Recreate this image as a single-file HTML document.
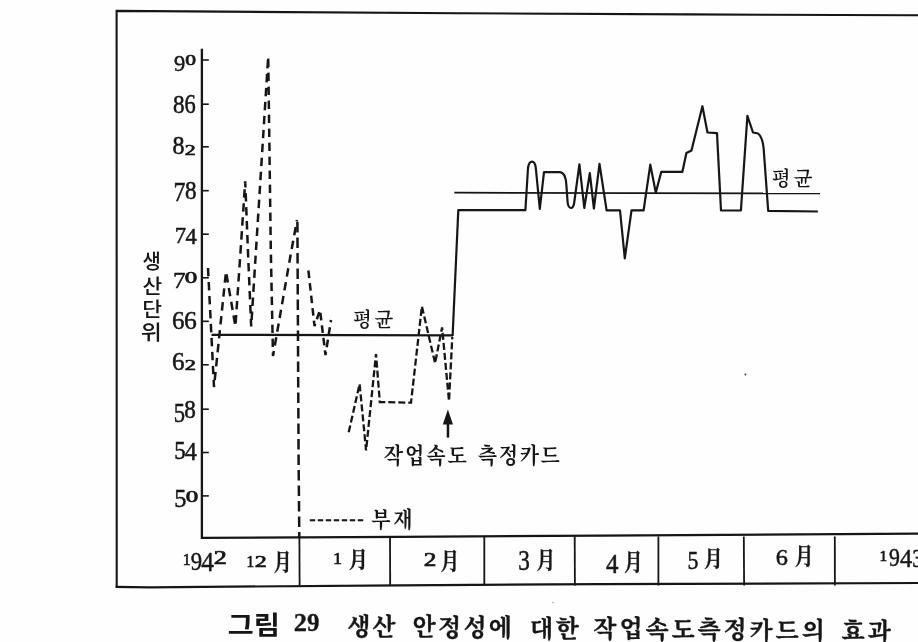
<!DOCTYPE html>
<html lang="ko"><head><meta charset="utf-8"><title>그림 29 생산 안정성에 대한 작업속도측정카드의 효과</title>
<style>
html,body{margin:0;padding:0;background:#fefefe;}
body{width:918px;height:642px;overflow:hidden;position:relative;}
svg{display:block;position:absolute;left:0;top:0;}
.l{fill:none;stroke:#161616;stroke-linecap:butt;stroke-linejoin:miter;}
.s{font-family:'Liberation Serif','Noto Serif CJK SC',serif;fill:#161616;}
.g{font-family:'Liberation Sans','Noto Sans CJK KR',sans-serif;fill:#161616;}
</style></head><body>
<svg width="918" height="642" viewBox="0 0 918 642">
<defs><filter id="soft" x="0" y="0" width="100%" height="100%" filterUnits="userSpaceOnUse"><feGaussianBlur stdDeviation="0.55"/></filter></defs>
<rect width="918" height="642" fill="#fefefe"/>
<g id="chart" filter="url(#soft)">
<g class="l" id="frame">
<polyline stroke-width="2.1" points="116.7,587.8 116.6,10.9 460,13.3 688,14.4 919,15.3"/>
<polyline stroke-width="2.2" points="115.6,586.9 150,587.3 400,585.3 600,584.1 919,583"/>
<polyline stroke-width="2.3" points="201.9,48.8 201.9,537.9 400,536.8 600,535.6 919,533.6"/>
<line stroke-width="1.6" x1="202" y1="60" x2="208.8" y2="60"/>
<line stroke-width="1.6" x1="202" y1="104.2" x2="208.8" y2="104.2"/>
<line stroke-width="1.6" x1="202" y1="146.8" x2="208.8" y2="146.8"/>
<line stroke-width="1.6" x1="202" y1="190.7" x2="208.8" y2="190.7"/>
<line stroke-width="1.6" x1="202" y1="234.2" x2="208.8" y2="234.2"/>
<line stroke-width="1.6" x1="202" y1="277.8" x2="208.8" y2="277.8"/>
<line stroke-width="1.6" x1="202" y1="321.3" x2="208.8" y2="321.3"/>
<line stroke-width="1.6" x1="202" y1="364.8" x2="208.8" y2="364.8"/>
<line stroke-width="1.6" x1="202" y1="409.2" x2="208.8" y2="409.2"/>
<line stroke-width="1.6" x1="202" y1="452.5" x2="208.8" y2="452.5"/>
<line stroke-width="1.6" x1="202" y1="495.9" x2="208.8" y2="495.9"/>
<line stroke-width="1.8" x1="299.4" y1="536.5" x2="299.6" y2="585.5"/>
<line stroke-width="1.8" x1="390" y1="536.5" x2="390.2" y2="585.5"/>
<line stroke-width="1.8" x1="484.3" y1="536.5" x2="484.3" y2="585.5"/>
<line stroke-width="1.8" x1="574.7" y1="536.5" x2="574.9" y2="585.5"/>
<line stroke-width="1.8" x1="658.4" y1="536.5" x2="658.4" y2="585.5"/>
<line stroke-width="1.8" x1="743.8" y1="536.5" x2="744.1" y2="585.5"/>
<line stroke-width="1.8" x1="834.8" y1="536.5" x2="834.9" y2="585.5"/>
</g>
<g class="l" id="avg">
<line stroke-width="2.2" x1="211.5" y1="334.8" x2="453" y2="335.4"/>
<line stroke-width="1.8" x1="454.3" y1="192.7" x2="820" y2="193.4"/>
</g>
<g class="l" id="dashed" stroke-width="2.5">
<polyline stroke-dasharray="8.4 5.6" points="208,268 214,387 226,271.5 235.4,326.4 240.3,255 245.2,181.4 248.1,255 251.2,326.4 256,250 268.2,56.5 270.8,250 273,356 290.6,255 297,220"/>
<polyline stroke-width="2.5" stroke-dasharray="10.5 5" points="297.4,222 298.6,460 299.3,537"/>
<polyline stroke-dasharray="7.6 5" points="308.4,270.5 314.5,326 320,310 325.5,355 331,320"/>
<polyline stroke-width="2.3" stroke-dasharray="7 3" points="348.7,432.3 359.6,384 366.1,450.5 376,354 379.8,402 411,402.7 421.9,306.4 435.1,363.2 442.1,327.4 449,401 452.3,337"/>
<line stroke-width="2" stroke-dasharray="5.4 2.6" x1="309.8" y1="520.2" x2="365" y2="520.2"/>
</g>
<g class="l" id="solid">
<path stroke-width="2.2" stroke-linejoin="round" d="M452.6,336 L458.3,210.2 L525.4,210.2 L528,168 Q529,161.6 532,161.6 Q535,161.6 535.8,168 L539.8,208.8 L544,172.2 L560.2,172.2 Q565.5,173 566.3,184 L567.6,202 Q568.2,208 571,208 Q573.6,208 574.3,202 L579.4,164.4 L584.3,208 L589.8,173.1 L593.9,208.5 L599.5,163.9 L606.6,210.4 L620,210.4 L624.8,258.4 L631.5,210.4 L643.6,210.4 L650.3,164.7 L655.8,192.6 L661.3,171.8 L682.4,171.8 L686.4,153 L691.5,150.4 L702.4,106.2 L707.5,132.5 L717,133.1 L721,210.5 L740.9,210.5 L747.4,115.9 L753,132.5 L758.1,133.5 Q762.5,137 763.6,148 L768.2,210.9 L817.9,211.5"/>
</g>
<g id="specks" fill="#161616"><circle cx="745.4" cy="374.6" r="1" opacity="0.8"/><circle cx="553" cy="602.6" r="0.8" opacity="0.35"/></g>
<g id="arrow" fill="#161616" stroke="none">
<polygon points="447.9,409.5 453,424.6 442.8,424.6"/>
<rect x="446.7" y="424" width="2.5" height="13.6"/>
</g>
<g id="ylabels">
<text class="s" font-weight="400" stroke="#161616" stroke-width="0.5" stroke-linejoin="round"><tspan x="174.08" y="71.07" font-size="23.96" textLength="11.25" lengthAdjust="spacingAndGlyphs">9</tspan><tspan stroke-width="0.7" x="185.33" y="65.4" font-size="14.97" textLength="10.74" lengthAdjust="spacingAndGlyphs">0</tspan></text>
<text class="s" font-weight="400" stroke="#161616" stroke-width="0.5" stroke-linejoin="round"><tspan x="173.02" y="112.84" font-size="26.23" textLength="11.56" lengthAdjust="spacingAndGlyphs">8</tspan><tspan x="184.43" y="112.84" font-size="26.34" textLength="11.23" lengthAdjust="spacingAndGlyphs">6</tspan></text>
<text class="s" font-weight="400" stroke="#161616" stroke-width="0.5" stroke-linejoin="round"><tspan x="172.58" y="154.15" font-size="25.34" textLength="12.03" lengthAdjust="spacingAndGlyphs">8</tspan><tspan stroke-width="0.7" x="184.79" y="154.65" font-size="15.25" textLength="10.98" lengthAdjust="spacingAndGlyphs">2</tspan></text>
<text class="s" font-weight="400" stroke="#161616" stroke-width="0.5" stroke-linejoin="round"><tspan x="173.52" y="200.9" font-size="27.18" textLength="11.97" lengthAdjust="spacingAndGlyphs">7</tspan><tspan x="184.92" y="199.26" font-size="24.9" textLength="11.56" lengthAdjust="spacingAndGlyphs">8</tspan></text>
<text class="s" font-weight="400" stroke="#161616" stroke-width="0.5" stroke-linejoin="round"><tspan x="174.8" y="242.5" font-size="23.82" textLength="11.35" lengthAdjust="spacingAndGlyphs">7</tspan><tspan x="185.46" y="244.1" font-size="24" textLength="11.29" lengthAdjust="spacingAndGlyphs">4</tspan></text>
<text class="s" font-weight="400" stroke="#161616" stroke-width="0.5" stroke-linejoin="round"><tspan x="173.04" y="288.2" font-size="23.37" textLength="12.58" lengthAdjust="spacingAndGlyphs">7</tspan><tspan stroke-width="0.7" x="184.7" y="283.2" font-size="15.86" textLength="12.51" lengthAdjust="spacingAndGlyphs">0</tspan></text>
<text class="s" font-weight="400" stroke="#161616" stroke-width="0.5" stroke-linejoin="round"><tspan x="172.02" y="328.65" font-size="25.6" textLength="12.52" lengthAdjust="spacingAndGlyphs">6</tspan><tspan x="184.11" y="328.65" font-size="25.6">6</tspan></text>
<text class="s" font-weight="400" stroke="#161616" stroke-width="0.5" stroke-linejoin="round"><tspan x="172.02" y="370.26" font-size="24.26" textLength="12.52" lengthAdjust="spacingAndGlyphs">6</tspan><tspan stroke-width="0.7" x="184.66" y="369.75" font-size="14.65" textLength="11.23" lengthAdjust="spacingAndGlyphs">2</tspan></text>
<text class="s" font-weight="400" stroke="#161616" stroke-width="0.5" stroke-linejoin="round"><tspan x="173.79" y="421.93" font-size="27.54" textLength="11.3" lengthAdjust="spacingAndGlyphs">5</tspan><tspan x="184.32" y="417.96" font-size="24.16" textLength="11.56" lengthAdjust="spacingAndGlyphs">8</tspan></text>
<text class="s" font-weight="400" stroke="#161616" stroke-width="0.5" stroke-linejoin="round"><tspan x="174.37" y="458.76" font-size="24.38" textLength="11.42" lengthAdjust="spacingAndGlyphs">5</tspan><tspan x="184.73" y="460.1" font-size="25.68" textLength="12.05" lengthAdjust="spacingAndGlyphs">4</tspan></text>
<text class="s" font-weight="400" stroke="#161616" stroke-width="0.5" stroke-linejoin="round"><tspan x="174.29" y="507.45" font-size="25.88" textLength="12.16" lengthAdjust="spacingAndGlyphs">5</tspan><tspan stroke-width="0.7" x="185.7" y="501.7" font-size="15.71" textLength="12.51" lengthAdjust="spacingAndGlyphs">0</tspan></text>
</g>
<text class="g" font-weight="500"><tspan x="142.5" y="268.7" font-size="20.8" textLength="18.42" lengthAdjust="spacingAndGlyphs">생</tspan><tspan x="142.51" y="293.69" font-size="20.8" textLength="19.68" lengthAdjust="spacingAndGlyphs">산</tspan><tspan x="142.39" y="317.19" font-size="20.8" textLength="19.77" lengthAdjust="spacingAndGlyphs">단</tspan><tspan x="140.65" y="340.48" font-size="20.8" textLength="21.05" lengthAdjust="spacingAndGlyphs">위</tspan></text>
<text class="s" font-size="20.5" font-weight="600"><tspan x="352.93" y="327.23" textLength="18.81" lengthAdjust="spacingAndGlyphs">평</tspan><tspan x="374.4" y="327.23" textLength="18.81" lengthAdjust="spacingAndGlyphs">균</tspan></text>
<text class="s" font-size="20.5" font-weight="600"><tspan x="771.73" y="186.28" textLength="18.81" lengthAdjust="spacingAndGlyphs">평</tspan><tspan x="793.75" y="186.28" textLength="18.81" lengthAdjust="spacingAndGlyphs">균</tspan></text>
<text><tspan class="s" font-size="21.5" font-weight="700"><tspan x="383.83" y="462.66" textLength="19.32" lengthAdjust="spacingAndGlyphs">작</tspan><tspan x="405.02" y="462.66" textLength="19.32" lengthAdjust="spacingAndGlyphs">업</tspan><tspan x="426.21" y="462.66" textLength="19.32" lengthAdjust="spacingAndGlyphs">속</tspan><tspan x="447.4" y="462.66" textLength="19.32" lengthAdjust="spacingAndGlyphs">도</tspan></tspan> <tspan class="s" font-size="21.5" font-weight="700"><tspan x="477.84" y="462.61" textLength="19.32" lengthAdjust="spacingAndGlyphs">측</tspan><tspan x="498.75" y="462.61" textLength="19.32" lengthAdjust="spacingAndGlyphs">정</tspan><tspan x="519.66" y="462.61" textLength="19.32" lengthAdjust="spacingAndGlyphs">카</tspan><tspan x="540.57" y="462.61" textLength="19.32" lengthAdjust="spacingAndGlyphs">드</tspan></tspan></text>
<text class="s" font-size="21.5" font-weight="700"><tspan x="371.35" y="527.29" textLength="19.32" lengthAdjust="spacingAndGlyphs">부</tspan><tspan x="393.31" y="527.29" textLength="19.32" lengthAdjust="spacingAndGlyphs">재</tspan></text>
<g id="months">
<text class="s" font-weight="400" stroke="#161616" stroke-width="0.5" stroke-linejoin="round"><tspan stroke-width="0.7" x="182.65" y="564.95" font-size="17.72" textLength="7.95" lengthAdjust="spacingAndGlyphs">1</tspan><tspan x="190.67" y="570.15" font-size="25.6" textLength="11.36" lengthAdjust="spacingAndGlyphs">9</tspan><tspan x="201.2" y="570.7" font-size="26.89" textLength="12.69" lengthAdjust="spacingAndGlyphs">4</tspan><tspan stroke-width="0.7" x="213.8" y="564.15" font-size="17.97" textLength="13.1" lengthAdjust="spacingAndGlyphs">2</tspan></text>
<text class="s" font-weight="400" stroke="#161616" stroke-width="0.5" stroke-linejoin="round"><tspan stroke-width="0.7" x="246.6" y="567.35" font-size="16.97" textLength="7.67" lengthAdjust="spacingAndGlyphs">1</tspan><tspan stroke-width="0.7" x="254.69" y="567.35" font-size="17.37" textLength="12.1" lengthAdjust="spacingAndGlyphs">2</tspan><tspan font-weight="700" stroke-width="0.3" x="273.86" y="570.36" font-size="22.25" textLength="17.9" lengthAdjust="spacingAndGlyphs">月</tspan></text>
<text class="s" font-weight="400" stroke="#161616" stroke-width="0.5" stroke-linejoin="round"><tspan stroke-width="0.7" x="333.08" y="564.25" font-size="17.12" textLength="8.95" lengthAdjust="spacingAndGlyphs">1</tspan><tspan font-weight="700" stroke-width="0.3" x="348.7" y="567.18" font-size="22.02" textLength="19.2" lengthAdjust="spacingAndGlyphs">月</tspan></text>
<text class="s" font-weight="400" stroke="#161616" stroke-width="0.5" stroke-linejoin="round"><tspan stroke-width="0.7" x="423.74" y="565.85" font-size="18.88" textLength="12.6" lengthAdjust="spacingAndGlyphs">2</tspan><tspan font-weight="700" stroke-width="0.3" x="440.52" y="568.71" font-size="22.93" textLength="18.81" lengthAdjust="spacingAndGlyphs">月</tspan></text>
<text class="s" font-weight="400" stroke="#161616" stroke-width="0.5" stroke-linejoin="round"><tspan x="518.29" y="570.22" font-size="28.87" textLength="11.62" lengthAdjust="spacingAndGlyphs">3</tspan><tspan font-weight="700" stroke-width="0.3" x="536.52" y="567.91" font-size="22.93" textLength="18.81" lengthAdjust="spacingAndGlyphs">月</tspan></text>
<text class="s" font-weight="400" stroke="#161616" stroke-width="0.5" stroke-linejoin="round"><tspan x="606.01" y="573" font-size="28.26" textLength="12.48" lengthAdjust="spacingAndGlyphs">4</tspan><tspan font-weight="700" stroke-width="0.3" x="623.92" y="569.6" font-size="23.04" textLength="18.81" lengthAdjust="spacingAndGlyphs">月</tspan></text>
<text class="s" font-weight="400" stroke="#161616" stroke-width="0.5" stroke-linejoin="round"><tspan x="687.43" y="569.45" font-size="25.43" textLength="10.92" lengthAdjust="spacingAndGlyphs">5</tspan><tspan font-weight="700" stroke-width="0.3" x="704.12" y="566.38" font-size="22.02" textLength="18.81" lengthAdjust="spacingAndGlyphs">月</tspan></text>
<text class="s" font-weight="400" stroke="#161616" stroke-width="0.5" stroke-linejoin="round"><tspan x="775.85" y="564.58" font-size="22.77" textLength="12.17" lengthAdjust="spacingAndGlyphs">6</tspan><tspan font-weight="700" stroke-width="0.3" x="794.82" y="563.81" font-size="22.93" textLength="18.81" lengthAdjust="spacingAndGlyphs">月</tspan></text>
<text class="s" font-weight="400" stroke="#161616" stroke-width="0.5" stroke-linejoin="round"><tspan stroke-width="0.7" x="879.6" y="560.75" font-size="15.3">1</tspan><tspan x="889" y="566.26" font-size="24.56" textLength="10.9" lengthAdjust="spacingAndGlyphs">9</tspan><tspan x="899.93" y="567" font-size="25.83" textLength="12.15" lengthAdjust="spacingAndGlyphs">4</tspan><tspan x="912.35" y="566.75" font-size="25.3" textLength="11.01" lengthAdjust="spacingAndGlyphs">3</tspan></text>
</g>
<g id="caption">
<text><tspan class="g" font-weight="700"><tspan x="227.65" y="634.39" font-size="25.5" textLength="25.91" lengthAdjust="spacingAndGlyphs">그</tspan><tspan x="253.82" y="634.39" font-size="25.5" textLength="26.21" lengthAdjust="spacingAndGlyphs">림</tspan></tspan> <tspan class="s" font-weight="700" stroke="#161616" stroke-width="0.3" stroke-linejoin="round"><tspan x="293.79" y="631" font-size="24.77" textLength="13.25" lengthAdjust="spacingAndGlyphs">2</tspan><tspan x="307.02" y="631.16" font-size="25">9</tspan></tspan> <tspan class="s" font-size="24" font-weight="700" stroke="#161616" stroke-width="0.35" stroke-linejoin="round"><tspan x="347.3" y="634.88">생</tspan><tspan x="372.28" y="635.11">산</tspan></tspan> <tspan class="s" font-size="24" font-weight="700" stroke="#161616" stroke-width="0.35" stroke-linejoin="round"><tspan x="412.59" y="635.49">안</tspan><tspan x="437.98" y="635.73">정</tspan><tspan x="463.38" y="635.96">성</tspan><tspan x="488.77" y="636.2">에</tspan></tspan> <tspan class="s" font-size="24" font-weight="700" stroke="#161616" stroke-width="0.35" stroke-linejoin="round"><tspan x="530.1" y="636.59">대</tspan><tspan x="555.85" y="636.83">한</tspan></tspan> <tspan class="s" font-size="24" font-weight="700" stroke="#161616" stroke-width="0.35" stroke-linejoin="round"><tspan x="593.35" y="637.18">작</tspan><tspan x="619.39" y="637.42">업</tspan><tspan x="645.43" y="637.66">속</tspan><tspan x="671.46" y="637.9">도</tspan><tspan x="697.5" y="638.15">측</tspan><tspan x="723.53" y="638.39">정</tspan><tspan x="749.57" y="638.63">카</tspan><tspan x="775.61" y="638.87">드</tspan><tspan x="801.64" y="639.12">의</tspan></tspan> <tspan class="s" font-size="24" font-weight="700" stroke="#161616" stroke-width="0.35" stroke-linejoin="round"><tspan x="841.55" y="639.49">효</tspan><tspan x="867.84" y="639.73">과</tspan></tspan></text>
</g>
</g>
</svg>
</body></html>
